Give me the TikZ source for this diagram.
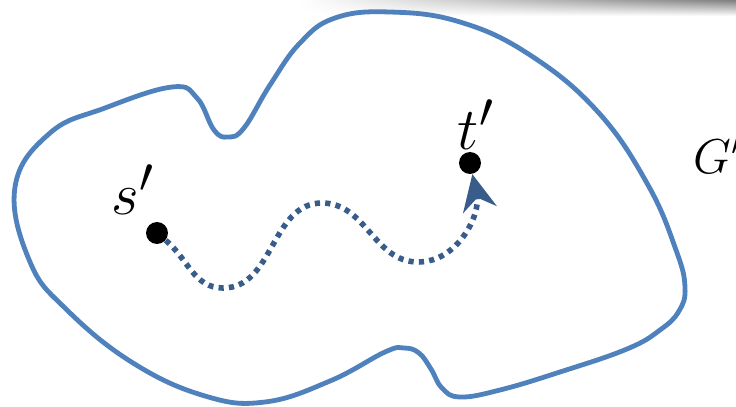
\documentclass[tikz,border=0pt]{standalone}
\usepackage{amsmath}
\usepackage{tikz}
\usetikzlibrary{arrows.meta, positioning, fadings}
\definecolor{myblue}{RGB}{79,129,189}
\definecolor{mynavy}{RGB}{56,93,138}
\tikzset{
  region/.style={draw=myblue, line width=2.4pt, line join=round},
  vertex/.style={circle, fill=black, inner sep=0pt, minimum size=11pt},
  lbl/.style={font=\Huge, scale=1.2, inner sep=0pt},
  walk/.style={draw=mynavy, line width=2.8pt, dash pattern=on 2.6pt off 2.6pt,
    -{Stealth[length=18pt, width=17pt, inset=6pt]}}
}
\begin{document}
\begin{tikzpicture}[x=0.5pt, y=-0.5pt]
  \useasboundingbox (0,0) rectangle (736,407);

  % Shadow
  \shade[top color=black!50, bottom color=white, path fading=west] (300,0) rectangle (736,16);

  % Region
  \draw[region] plot[smooth cycle, tension=0.7] coordinates {
    (15,187) (50,133) (105,108) (172,87) (197,98) (214,130) (228,137)
    (244,128) (270,85) (300,43) (335,18) (390,12) (460,22) (530,55)
    (598,112) (648,185) (676,250) (685,287) (679,311) (660,330) (627,349)
    (560,372) (500,390) (460,397) (442,388) (431,369) (419,353) (404,348)
    (385,352) (330,381) (265,402) (205,396) (133,363) (67,310)
    (30,262)};
  \node[lbl, scale=0.82, anchor=west] (g) at (693,153) {$G'$};

  % Points
  \node[vertex] (s) at (157,233) {};
  \node[vertex] (t) at (470,163) {};
  \node[lbl] (sl) at (133,190) {$s'$};
  \node[lbl] (tl) at (476,125) {$t'$};

  % Walk
  \draw[walk] (s) to[out=-40, in=180] (223,288) to[out=0, in=180] (322,203)
    to[out=0, in=180] (418,262) to[out=0, in=-78] (t);
\end{tikzpicture}
\end{document}
